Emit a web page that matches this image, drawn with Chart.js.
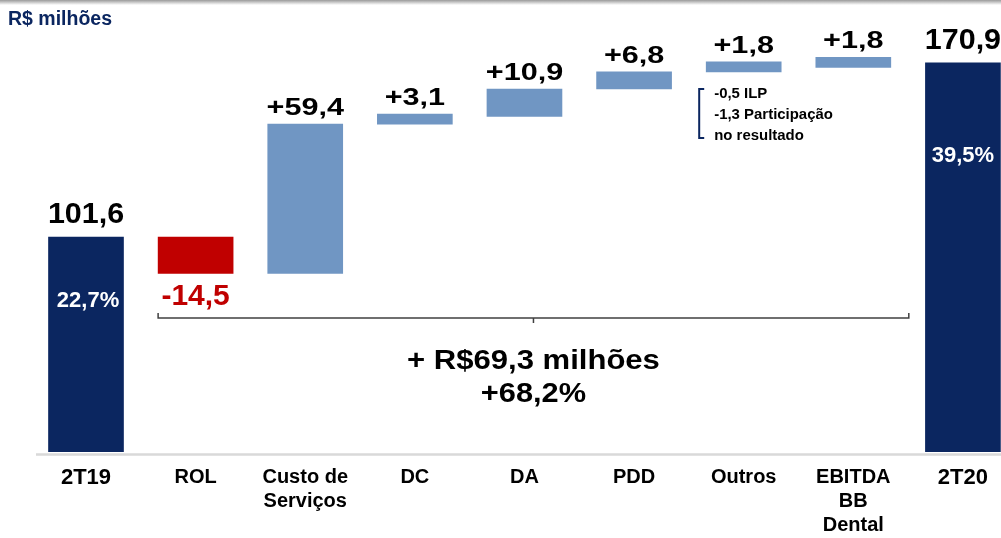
<!DOCTYPE html>
<html lang="pt">
<head>
<meta charset="UTF-8">
<title>EBITDA 2T19 x 2T20</title>
<script src="https://cdn.jsdelivr.net/npm/chart.js"></script>
<style>
  html, body { margin: 0; padding: 0; overflow: hidden; background: #fff; }
  #wrap { width: 1001px; height: 550px; position: relative; }
</style>
</head>
<body>
<div id="wrap"><canvas id="ebitdaChart"></canvas></div>
<script>
// dados da ponte 2T19 -> 2T20 (R$ milhões)
const categorias = ['2T19', 'ROL', ['Custo de', 'Serviços'], 'DC', 'DA', 'PDD', 'Outros', ['EBITDA', 'BB', 'Dental'], '2T20'];
const ebitdaInicial = 101.6;
const ebitdaFinal = 170.9;
const variacoes = [-14.5, 59.4, 3.1, 10.9, 6.8, 1.8, 1.8];
const rotulos = ['101,6', '-14,5', '+59,4', '+3,1', '+10,9', '+6,8', '+1,8', '+1,8', '170,9'];
const margens = ['22,7%', '39,5%'];
const totalTexto = ['+ R$69,3 milhões', '+68,2%'];
const notaOutros = ['-0,5 ILP', '-1,3 Participação', 'no resultado'];

const AZUL = '#0b2660';
const AZUL_CLARO = '#7096c3';
const VERMELHO = '#c00000';
const FONTE = '"Liberation Sans", Arial, sans-serif';

// monta as barras flutuantes
const barras = [ebitdaInicial];
const cores = [AZUL];
let acumulado = ebitdaInicial;
variacoes.forEach(v => {
    barras.push([acumulado, acumulado + v]);
    cores.push(v < 0 ? VERMELHO : AZUL_CLARO);
    acumulado += v;
});
barras.push(ebitdaFinal);
cores.push(AZUL);

function texto(ctx, s, x, y, tam, cor, esticar, alinhar) {
    ctx.save();
    ctx.font = 'bold ' + tam + 'px ' + FONTE;
    ctx.fillStyle = cor;
    ctx.textAlign = alinhar || 'center';
    ctx.textBaseline = 'alphabetic';
    ctx.translate(x, y);
    ctx.scale(esticar || 1, 1);
    ctx.fillText(s, 0, 0);
    ctx.restore();
}

const anotacoes = {
    id: 'anotacoes',
    afterDatasetsDraw(chart) {
        const ctx = chart.ctx;
        const meta = chart.getDatasetMeta(0);
        const area = chart.chartArea;

        // linha cinza no topo
        const g = ctx.createLinearGradient(0, 0, 0, 5);
        g.addColorStop(0, '#9a9a9a');
        g.addColorStop(1, '#ffffff');
        ctx.fillStyle = g;
        ctx.fillRect(0, 0, chart.width, 5);

        texto(ctx, 'R$ milhões', 8, 25, 19.5, AZUL, 1, 'left');

        // linha de base
        ctx.save();
        ctx.strokeStyle = '#d9d9d9';
        ctx.lineWidth = 2.5;
        ctx.beginPath();
        ctx.moveTo(36, area.bottom + 2.5);
        ctx.lineTo(chart.width, area.bottom + 2.5);
        ctx.stroke();
        ctx.restore();

        meta.data.forEach((bar, i) => {
            const topo = Math.min(bar.y, bar.base);
            const fundo = Math.max(bar.y, bar.base);
            if (i === 0 || i === meta.data.length - 1) {
                texto(ctx, rotulos[i], bar.x, topo - 14, 29, '#000', 1.05);
            } else if (variacoes[i - 1] < 0) {
                texto(ctx, rotulos[i], bar.x, fundo + 32, 30, VERMELHO, 1);
            } else {
                texto(ctx, rotulos[i], bar.x, topo - 9, 23, '#000', 1.33);
            }
        });

        // margens dentro das barras de EBITDA
        const ini = meta.data[0], fim = meta.data[meta.data.length - 1];
        texto(ctx, margens[0], ini.x + 2, Math.min(ini.y, ini.base) + 70, 22, '#fff', 1);
        texto(ctx, margens[1], fim.x, Math.min(fim.y, fim.base) + 99, 22, '#fff', 1);

        // chave sob as variações
        const rol = meta.data[1], dental = meta.data[7];
        const esq = rol.x - rol.width / 2;
        const dir = dental.x + dental.width / 2 + 18;
        const meio = (esq + dir) / 2;
        const yc = 318;
        ctx.save();
        ctx.strokeStyle = '#404040';
        ctx.lineWidth = 1.5;
        ctx.beginPath();
        ctx.moveTo(esq, yc - 5);
        ctx.lineTo(esq, yc);
        ctx.lineTo(dir, yc);
        ctx.lineTo(dir, yc - 5);
        ctx.moveTo(meio, yc);
        ctx.lineTo(meio, yc + 5);
        ctx.stroke();
        ctx.restore();
        texto(ctx, totalTexto[0], meio, 369, 27, '#000', 1.15);
        texto(ctx, totalTexto[1], meio, 402, 28.5, '#000', 1.08);

        // nota de Outros
        const outros = meta.data[6];
        const bx = outros.x - outros.width / 2 - 7;
        ctx.save();
        ctx.strokeStyle = AZUL;
        ctx.lineWidth = 2;
        ctx.beginPath();
        ctx.moveTo(bx + 5, 89);
        ctx.lineTo(bx, 89);
        ctx.lineTo(bx, 138);
        ctx.lineTo(bx + 5, 138);
        ctx.stroke();
        ctx.restore();
        notaOutros.forEach((s, k) => {
            texto(ctx, s, bx + 15, 98 + k * 21, 14.5, '#000', 1.03, 'left');
        });
    }
};

const ctx = document.getElementById('ebitdaChart').getContext('2d');
new Chart(ctx, {
    type: 'bar',
    data: {
        labels: categorias,
        datasets: [{
            data: barras,
            backgroundColor: cores,
            borderWidth: 0,
            barThickness: 75,
            minBarLength: 10,
            clip: { left: false, right: false, top: false, bottom: 0 }
        }]
    },
    options: {
        responsive: true,
        maintainAspectRatio: false,
        animation: false,
        layout: { padding: { top: 40, left: 86, right: 38, bottom: 0 } },
        plugins: { legend: { display: false }, tooltip: { enabled: false } },
        scales: {
            x: {
                offset: false,
                border: { display: false },
                grid: { display: false, drawTicks: false },
                ticks: {
                    color: '#000',
                    padding: 13,
                    maxRotation: 0,
                    autoSkip: false,
                    font: (c) => ({
                        family: FONTE,
                        weight: 'bold',
                        size: (c.index === 0 || c.index === categorias.length - 1) ? 22 : 20,
                        lineHeight: 1.2
                    })
                }
            },
            y: {
                display: false,
                min: 16,
                max: 180
            }
        }
    },
    plugins: [anotacoes]
});
</script>
</body>
</html>
